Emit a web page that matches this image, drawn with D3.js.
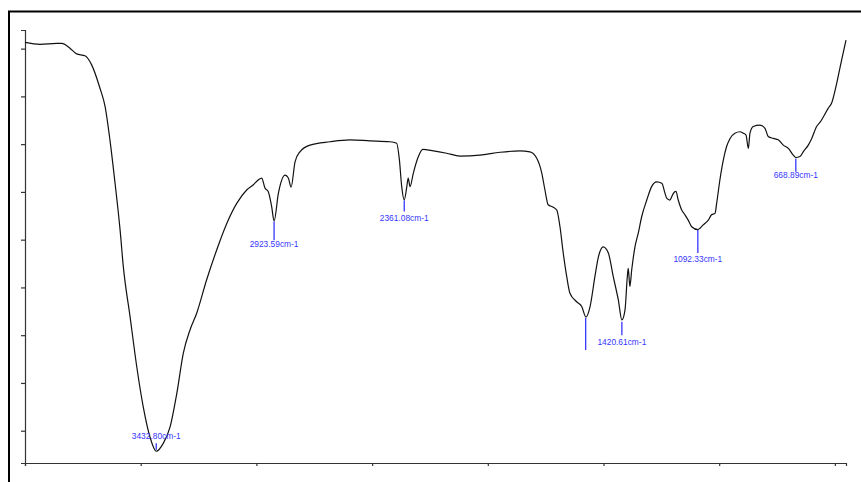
<!DOCTYPE html>
<html>
<head>
<meta charset="utf-8">
<script src="https://cdn.jsdelivr.net/npm/d3@7"></script>
<style>
  html, body { margin: 0; padding: 0; background: #fff; }
  svg { display: block; }
</style>
</head>
<body>
<div id="chart"></div>
<script>

// IR spectrum: wavenumber (cm-1) and transmittance (%)
const wavenumbers = [
    4000, 3935, 3863, 3841, 3806, 3777, 3741, 3712, 3676, 3654,
    3633, 3611, 3589, 3575, 3546, 3517, 3489, 3460, 3432.8, 3402,
    3373, 3344, 3316, 3287, 3258, 3215, 3172, 3128, 3085, 3042,
    3013, 2992, 2977, 2963, 2949, 2934, 2923.59, 2905, 2876, 2862,
    2850, 2833, 2812, 2768, 2682, 2596, 2509, 2423, 2394, 2382,
    2372, 2361.08, 2350, 2344, 2336, 2322, 2300, 2281, 2235, 2178,
    2120, 2034, 1947, 1861, 1818, 1789, 1767, 1753, 1739, 1717,
    1702, 1688, 1674, 1659, 1645, 1616, 1594, 1576, 1558, 1537,
    1522, 1501, 1479, 1458, 1436, 1420.61, 1407, 1397, 1393, 1386,
    1378, 1364, 1350, 1335, 1313, 1292, 1270, 1248, 1234, 1227,
    1213, 1205, 1198, 1187, 1177, 1162, 1148, 1134, 1119, 1092.33,
    1083, 1069, 1047, 1033, 1018, 1011, 997, 982, 968, 953,
    932, 910, 896, 884, 874, 867, 853, 824, 802, 788,
    766, 745, 723, 701, 680, 668.89, 651, 637, 615, 600,
    579, 564, 529, 514, 492, 471, 452
];
const transmittance = [
    91.3, 90.9, 91.1, 91.1, 90.1, 88.9, 88.5, 86.6, 81.7, 77.9,
    70.9, 61.9, 52.0, 44.3, 33.9, 23.4, 15.0, 8.7, 5.7, 7.4,
    10.8, 17.8, 26.2, 31.1, 34.6, 41.6, 47.8, 53.4, 57.6, 60.4,
    61.5, 62.5, 62.9, 60.8, 60.1, 56.9, 53.9, 59.7, 63.5, 62.9,
    61.0, 66.3, 68.4, 69.8, 70.5, 70.9, 70.7, 70.5, 70.2, 66.7,
    61.1, 58.3, 61.1, 62.9, 61.1, 63.9, 67.4, 68.9, 68.6, 68.1,
    67.5, 67.7, 68.3, 68.6, 68.4, 67.1, 64.0, 60.4, 57.3, 56.8,
    56.2, 52.7, 47.2, 42.3, 38.8, 37.0, 36.0, 33.8, 36.0, 42.3,
    46.4, 48.5, 47.2, 42.3, 37.4, 33.2, 35.3, 42.3, 44.0, 40.2,
    43.7, 48.5, 51.3, 54.8, 58.3, 61.1, 62.1, 61.8, 59.7, 58.7,
    58.3, 59.0, 59.7, 60.1, 58.3, 56.2, 55.2, 54.1, 52.7, 52.1,
    52.4, 53.1, 54.1, 55.2, 55.5, 57.6, 62.5, 66.7, 69.5, 71.2,
    72.3, 72.6, 72.3, 71.9, 69.1, 72.3, 73.7, 74.0, 73.3, 71.6,
    71.2, 70.9, 69.8, 69.1, 67.7, 67.2, 67.4, 68.4, 69.8, 71.2,
    73.7, 74.6, 77.5, 78.6, 82.8, 87.6, 91.8
];

// peak markers: wavenumber, marker top / bottom and label baseline (in %T)
const peakWn = [3432.8, 2923.59, 2361.08, 1577, 1420.61, 1092.33, 668.89];
const markerTop = [7.4, 53.8, 58.2, 33.6, 32.8, 52.0, 67.0];
const markerBottom = [6.0, 49.9, 55.9, 26.9, 30.0, 47.2, 64.2];
const labelAt = [8.3, 48.4, 54.0, null, 27.9, 45.4, 62.9];
const peakLabels = ['3432.80cm-1', '2923.59cm-1', '2361.08cm-1', '', '1420.61cm-1', '1092.33cm-1', '668.89cm-1'];

const xTicks = [4000, 3500, 3000, 2500, 2000, 1500, 1000, 500];
const yTicks = [10, 20, 30, 40, 50, 60, 70, 80, 90];

const W = 861, H = 482;
const blue = '#3636ff';

const svg = d3.select('#chart')
    .append('svg')
    .attr('width', W)
    .attr('height', H);

// outer frame (runs off the right and bottom edges)
svg.append('path')
    .attr('d', `M9,${H}V11.5H${W}`)
    .attr('fill', 'none')
    .attr('stroke', '#000')
    .attr('stroke-width', 2);

const x = d3.scaleLinear()
    .domain([4000, 452])
    .range([25, 846]);

const y = d3.scaleLinear()
    .domain([3.24, 93.9])
    .range([463, 30]);

// axes, no tick labels
const xAxis = svg.append('g')
    .attr('transform', 'translate(0, 463)')
    .call(d3.axisBottom(x).tickValues(xTicks).tickSize(3).tickSizeOuter(3).tickFormat(''));

const yAxis = svg.append('g')
    .attr('transform', 'translate(25, 0)')
    .call(d3.axisLeft(y).tickValues(yTicks).tickSize(4).tickSizeOuter(4).tickFormat(''));

[xAxis, yAxis].forEach(g => {
    g.selectAll('path, line')
        .attr('stroke', '#333')
        .attr('stroke-width', 1.2);
});

// spectrum
const data = wavenumbers.map((w, i) => ({w: w, t: transmittance[i]}));

const line = d3.line()
    .x(d => x(d.w))
    .y(d => y(d.t))
    .curve(d3.curveMonotoneX);

svg.append('path')
    .datum(data)
    .attr('d', line)
    .attr('fill', 'none')
    .attr('stroke', '#111')
    .attr('stroke-width', 1.2)
    .attr('stroke-linejoin', 'round');

// peak markers and labels
const peaks = peakWn.map((w, i) => ({
    w: w, top: markerTop[i], bottom: markerBottom[i], at: labelAt[i], text: peakLabels[i]
}));

svg.append('g')
    .selectAll('line')
    .data(peaks)
    .enter()
    .append('line')
    .attr('x1', d => x(d.w))
    .attr('x2', d => x(d.w))
    .attr('y1', d => y(d.top))
    .attr('y2', d => y(d.bottom))
    .attr('stroke', blue)
    .attr('stroke-width', 1.3);

svg.append('g')
    .selectAll('text')
    .data(peaks.filter(d => d.text))
    .enter()
    .append('text')
    .attr('x', d => x(d.w))
    .attr('y', d => y(d.at))
    .attr('text-anchor', 'middle')
    .style('font-family', '"Liberation Sans", Arial, sans-serif')
    .style('font-size', '8.4px')
    .attr('fill', blue)
    .text(d => d.text);

</script>
</body>
</html>
